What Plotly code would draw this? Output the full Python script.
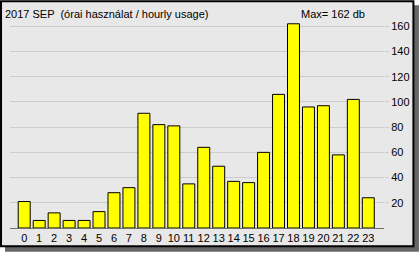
import plotly.graph_objects as go

hours = list(range(24))
hour_labels = [str(h) for h in hours]
usage = [21, 6, 12, 6, 6, 13, 28, 32, 91, 82, 81, 35, 64, 49, 37, 36, 60, 106, 162, 96, 97, 58, 102, 24]
y_ticks = [20, 40, 60, 80, 100, 120, 140, 160]
title_text = "2017 SEP  (órai használat / hourly usage)"
max_text = "Max= " + str(max(usage)) + " db"

W, H = 420, 254
ML, MR, MT, MB = 10, 35, 20, 24
PW, PH = W - ML - MR, H - MT - MB

def px(x):
    return (x - ML) / PW

def py(y):
    return 1 - (y - MT) / PH

FONT = "Liberation Sans"
FS = 11

fig = go.Figure()
fig.add_trace(go.Bar(
    x=hours, y=usage, width=0.8,
    marker=dict(color="#ffff00", line=dict(color="#000000", width=1)),
))

shapes = [
    dict(type="rect", xref="paper", yref="paper", layer="below",
         x0=px(5), x1=px(420), y0=py(254), y1=py(5),
         fillcolor="#666666", line=dict(width=0)),
    dict(type="rect", xref="paper", yref="paper", layer="below",
         x0=px(1), x1=px(414.5), y0=py(248.5), y1=py(1),
         fillcolor="#e8e8e8", line=dict(color="#000000", width=2)),
]

fig.update_layout(
    width=W, height=H,
    margin=dict(l=ML, r=MR, t=MT, b=MB),
    paper_bgcolor="#ffffff",
    plot_bgcolor="rgba(0,0,0,0)",
    showlegend=False,
    shapes=shapes,
    font=dict(family=FONT, size=FS, color="#000000"),
    xaxis=dict(range=[-0.95, 24.05], tickvals=hours, ticktext=hour_labels,
               tickangle=0, showgrid=False, zeroline=False, showline=True,
               linecolor="#707070", linewidth=1, ticks="",
               tickfont=dict(family=FONT, size=FS)),
    yaxis=dict(range=[0, 165], side="right", tickvals=y_ticks,
               showgrid=True, gridcolor="#cccccc", gridwidth=1, zeroline=False,
               ticks="outside", ticklen=4, tickcolor="#cccccc",
               tickfont=dict(family=FONT, size=FS)),
    annotations=[
        dict(text=title_text, xref="paper", yref="paper", x=px(3), y=py(14),
             xanchor="left", yanchor="middle", showarrow=False,
             font=dict(family=FONT, size=FS)),
        dict(text=max_text, xref="paper", yref="paper", x=px(300), y=py(14),
             xanchor="left", yanchor="middle", showarrow=False,
             font=dict(family=FONT, size=FS)),
    ],
)

fig.write_html("out.html")
